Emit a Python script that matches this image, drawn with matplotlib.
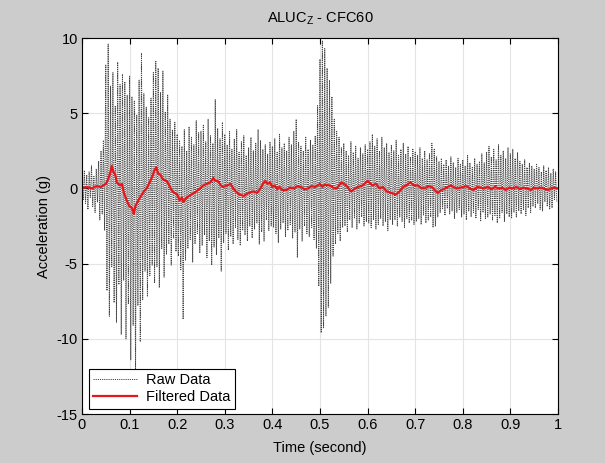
import numpy as np
import matplotlib
matplotlib.use("Agg")
import matplotlib.pyplot as plt

# raw accelerometer samples (g), 0.0025 s apart
raw_g = [
    0.3, -0.8, 1.2, -1.0, 0.9, -1.4, 1.1, -0.6, 1.5, -1.2, 0.8, -1.6, 1.3, -0.9, 1.8, -2.1, 2.5, -1.7, 3.2, -2.8,
    8.2, -6.8, 9.6, -8.5, 6.8, -5.2, 7.7, -7.6, 5.5, -8.9, 8.4, -6.4, 6.9, -9.7, 7.6, -6.1, 7.1, -10.0, 6.2, -7.7,
    7.5, -11.4, 6.1, -9.1, 5.8, -12.1, 4.9, -7.8, 7.2, -10.2, 9.0, -7.4, 6.3, -5.5, 5.4, -7.2, 4.7, -5.8, 6.0, -5.1,
    7.7, -6.3, 8.5, -5.2, 8.0, -6.6, 6.4, -4.0, 7.8, -5.9, 5.1, -4.4, 6.2, -3.7, 4.6, -5.1, 3.9, -3.3, 4.4, -4.2,
    3.6, -4.5, 3.2, -5.4, 2.8, -8.7, 3.9, -4.8, 2.5, -4.0, 4.1, -3.4, 3.4, -4.9, 2.9, -3.7, 4.5, -3.0, 3.7, -4.3,
    3.8, -3.8, 4.2, -3.1, 3.1, -4.6, 4.6, -3.5, 3.5, -5.1, 3.0, -3.9, 5.9, -4.4, 4.0, -3.3, 3.3, -5.5, 4.4, -3.6,
    3.6, -3.0, 2.9, -4.1, 3.8, -3.2, 2.6, -3.7, 3.3, -2.6, 3.9, -3.4, 2.4, -3.8, 3.1, -2.8, 3.5, -3.1, 2.2, -3.5,
    2.7, -2.5, 3.4, -3.3, 2.5, -2.7, 3.0, -2.3, 3.9, -3.7, 3.2, -2.9, 2.6, -3.5, 2.9, -2.1, 2.3, -2.8, 3.1, -2.5,
    2.8, -2.6, 3.3, -3.0, 2.4, -3.6, 3.6, -2.7, 2.7, -2.3, 3.0, -3.2, 2.5, -2.8, 3.4, -2.4, 2.9, -3.3, 3.8, -2.9,
    4.6, -4.6, 3.1, -2.7, 2.8, -3.5, 2.5, -2.5, 3.4, -3.0, 2.6, -3.2, 3.2, -2.6, 2.9, -3.4, 3.5, -4.0, 5.5, -6.5,
    8.6, -9.6, 9.8, -9.3, 9.3, -8.5, 8.0, -7.9, 7.2, -6.3, 6.1, -4.5, 4.6, -3.7, 3.8, -3.0, 3.4, -3.5, 2.7, -2.6,
    3.0, -2.5, 2.5, -2.9, 2.2, -2.1, 3.1, -2.6, 2.4, -2.0, 2.8, -2.7, 2.0, -2.3, 2.7, -1.9, 2.3, -2.5, 2.9, -2.2,
    2.6, -2.3, 3.1, -2.6, 3.6, -2.1, 2.8, -2.7, 3.3, -2.4, 2.5, -2.0, 3.4, -2.5, 2.7, -2.2, 3.0, -2.8, 2.4, -2.1,
    2.9, -2.4, 2.5, -2.1, 3.2, -2.5, 2.2, -1.9, 2.6, -2.2, 3.0, -2.6, 2.3, -2.0, 2.8, -2.3, 2.1, -2.1, 2.6, -2.4,
    2.4, -2.2, 2.2, -2.0, 2.7, -2.4, 2.0, -1.8, 2.5, -2.3, 1.9, -2.1, 2.3, -1.9, 3.0, -2.6, 2.6, -2.5, 2.1, -1.9,
    1.8, -1.6, 2.0, -1.4, 1.6, -1.8, 1.9, -1.3, 1.5, -1.7, 2.1, -1.5, 1.7, -2.0, 1.4, -1.6, 2.0, -1.4, 1.6, -1.9,
    1.9, -1.7, 1.5, -2.1, 2.2, -1.5, 1.7, -1.9, 1.4, -1.6, 2.0, -2.0, 1.6, -1.4, 1.8, -2.2, 2.3, -1.6, 1.7, -2.0,
    2.4, -1.9, 2.8, -1.7, 2.1, -2.1, 2.6, -1.8, 1.9, -2.3, 2.9, -2.0, 2.2, -1.6, 2.5, -2.2, 2.0, -1.7, 2.7, -1.9,
    2.3, -2.0, 2.6, -1.6, 2.0, -1.9, 2.4, -1.5, 1.8, -1.7, 1.6, -1.4, 1.9, -1.8, 1.4, -1.3, 1.7, -1.6, 1.5, -1.2,
    1.3, -1.3, 1.6, -1.0, 1.4, -1.4, 1.1, -1.5, 1.5, -0.9, 1.2, -1.2, 1.4, -1.4, 1.0, -1.3, 1.3, -0.8, 1.1, -0.9,
]
raw_dt = 0.0025

# CFC60 filtered trace, (time, g) points
filt_t = [0.0, 0.01, 0.02, 0.03, 0.04, 0.05, 0.055, 0.06, 0.0625, 0.066, 0.07, 0.073, 0.08, 0.084, 0.088,
          0.094, 0.1, 0.105, 0.109, 0.112, 0.115, 0.122, 0.13, 0.136, 0.142, 0.148, 0.152, 0.156, 0.16,
          0.165, 0.17, 0.178, 0.185, 0.19, 0.2, 0.205, 0.21, 0.213, 0.22, 0.23, 0.24, 0.248, 0.255, 0.262,
          0.27, 0.276, 0.28, 0.285, 0.292, 0.297, 0.305, 0.312, 0.32, 0.33, 0.34, 0.35, 0.36, 0.368, 0.375,
          0.38, 0.385, 0.39, 0.395, 0.4, 0.405, 0.41, 0.415, 0.42, 0.43, 0.437, 0.445, 0.452, 0.46, 0.467,
          0.475, 0.482, 0.49, 0.5, 0.505, 0.51, 0.52, 0.528, 0.535, 0.545, 0.555, 0.565, 0.572, 0.58, 0.59,
          0.6, 0.61, 0.618, 0.625, 0.632, 0.64, 0.65, 0.66, 0.667, 0.675, 0.683, 0.69, 0.697, 0.705, 0.712,
          0.72, 0.728, 0.735, 0.742, 0.748, 0.755, 0.76, 0.768, 0.775, 0.783, 0.79, 0.8, 0.808, 0.815,
          0.823, 0.83, 0.838, 0.845, 0.852, 0.86, 0.868, 0.875, 0.883, 0.89, 0.898, 0.905, 0.913, 0.92,
          0.928, 0.935, 0.943, 0.95, 0.958, 0.965, 0.973, 0.98, 0.988, 1.0]
filt_g = [0.0, 0.1, 0.0, 0.15, 0.1, 0.3, 0.6, 1.1, 1.5, 1.1, 0.9, 0.4, 0.2, 0.3, -0.3,
          -0.8, -1.2, -1.3, -1.7, -1.2, -1.0, -0.6, -0.2, 0.0, 0.4, 0.8, 1.2, 1.4, 1.0,
          0.9, 0.6, 0.5, 0.1, -0.2, -0.4, -0.8, -0.6, -0.9, -0.6, -0.4, -0.2, 0.0, 0.2, 0.3,
          0.4, 0.7, 0.5, 0.5, 0.2, 0.1, 0.2, 0.3, -0.1, -0.4, -0.5, -0.3, -0.2, -0.3, 0.0,
          0.3, 0.5, 0.3, 0.4, 0.1, 0.2, -0.05, 0.1, -0.1, -0.1, 0.05, 0.0, 0.15, 0.1, -0.05,
          0.0, 0.15, 0.1, 0.3, 0.1, 0.25, 0.2, 0.05, 0.0, 0.4, 0.2, -0.2, -0.05, 0.1, 0.2,
          0.5, 0.2, 0.3, 0.0, 0.1, -0.2, -0.3, -0.4, -0.2, 0.1, 0.25, 0.4, 0.2, 0.2, 0.05,
          0.0, 0.15, 0.1, -0.15, -0.3, -0.1, -0.05, 0.1, 0.2, 0.05, 0.0, 0.1, 0.15, 0.0,
          -0.1, 0.1, 0.05, 0.0, 0.1, -0.05, 0.1, 0.0, 0.05, -0.1, 0.05, 0.0, 0.1, -0.05,
          0.05, 0.0, -0.1, 0.05, 0.0, 0.05, -0.05, -0.1, 0.05, 0.0]

x_ticks = [0, 0.1, 0.2, 0.3, 0.4, 0.5, 0.6, 0.7, 0.8, 0.9, 1]
y_ticks = [-15, -10, -5, 0, 5, 10]


def main():
    plt.rcParams["font.family"] = ["Liberation Sans", "DejaVu Sans"]
    plt.rcParams["axes.unicode_minus"] = False
    raw_t = np.arange(len(raw_g)) * raw_dt

    fig = plt.figure(figsize=(6.05, 4.63), dpi=100, facecolor="#cccccc")
    ax = fig.add_axes([0.1355, 0.1058, 0.7868, 0.8121])

    ax.plot(raw_t, raw_g, color="#454545", lw=0.7, ls=(0, (1.2, 1.0)), label="Raw Data")
    ax.plot(filt_t, filt_g, color="#e8161b", lw=1.6, label="Filtered Data")

    ax.set_xlim(0, 1)
    ax.set_ylim(-15, 10)
    ax.set_xticks(x_ticks)
    ax.set_xticklabels([f"{v:g}" for v in x_ticks])
    ax.set_yticks(y_ticks)
    ax.grid(True, color="#e4e4e4", lw=0.8)
    ax.set_axisbelow(True)
    ax.tick_params(direction="in", top=True, right=True, length=4, labelsize=10.5, pad=3)
    for s in ax.spines.values():
        s.set_linewidth(0.8)

    ax.set_title("ALUC$_\\mathregular{Z}$ - CFC60", fontsize=10.5, pad=11)
    ax.set_xlabel("Time (second)", fontsize=10.5, labelpad=6)
    ax.set_ylabel("Acceleration (g)", fontsize=10.5, labelpad=4)

    leg = ax.legend(loc="lower left", bbox_to_anchor=(0.015, 0.014), borderaxespad=0,
                    fancybox=False, framealpha=1, edgecolor="black", fontsize=10.5,
                    handlelength=3.0, handletextpad=0.6, borderpad=0.3, labelspacing=0.2)
    leg.get_frame().set_linewidth(0.8)

    fig.savefig("out.png", dpi=100, facecolor=fig.get_facecolor())


if __name__ == "__main__":
    main()
